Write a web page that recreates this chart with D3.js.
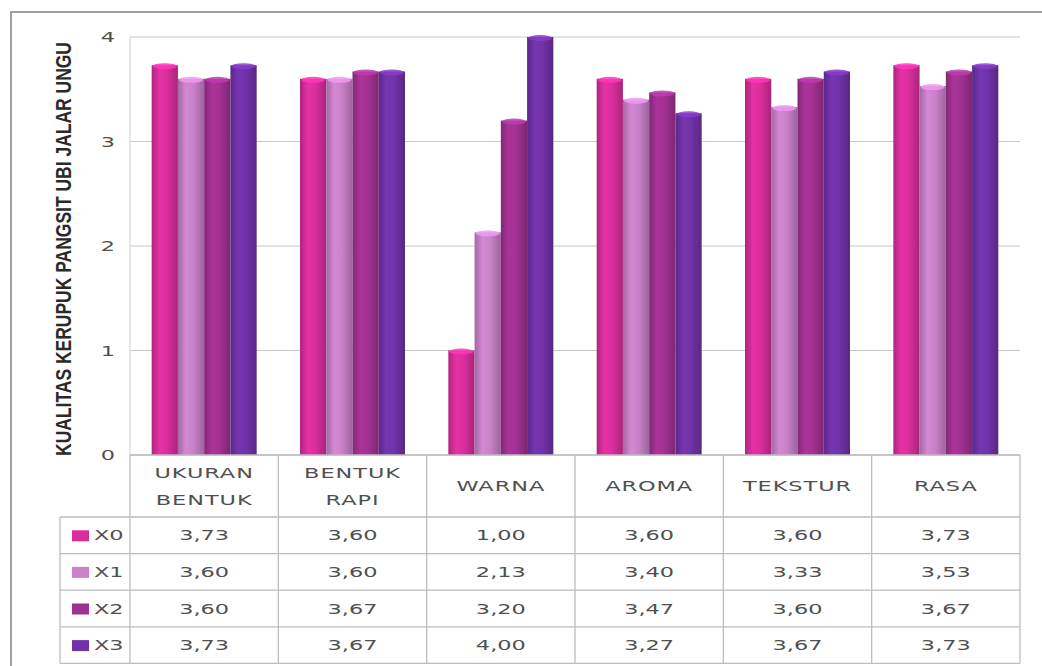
<!DOCTYPE html>
<html>
<head>
<meta charset="utf-8">
<script src="https://cdn.jsdelivr.net/npm/d3@7"></script>
<style>
  html, body { margin: 0; padding: 0; background: #fff; }
  svg { display: block; }
</style>
</head>
<body>
<svg id="chart" width="1042" height="666"></svg>
<script>
// Quality scores of purple sweet potato pangsit crackers per attribute
const categories = ["UKURAN\nBENTUK", "BENTUK\nRAPI", "WARNA", "AROMA", "TEKSTUR", "RASA"];
const seriesNames = ["X0", "X1", "X2", "X3"];
const valuesX0 = [3.73, 3.60, 1.00, 3.60, 3.60, 3.73];
const valuesX1 = [3.60, 3.60, 2.13, 3.40, 3.33, 3.53];
const valuesX2 = [3.60, 3.67, 3.20, 3.47, 3.60, 3.67];
const valuesX3 = [3.73, 3.67, 4.00, 3.27, 3.67, 3.73];
const seriesColors = ["#d92e9c", "#c981c9", "#a13192", "#7132a8"];
const yTicks = [0, 1, 2, 3, 4];
const yTitle = "KUALITAS KERUPUK PANGSIT UBI JALAR UNGU";

const seriesValues = [valuesX0, valuesX1, valuesX2, valuesX3];

const svg = d3.select("#chart");
const plot = { left: 130, right: 1020, top: 37, bottom: 455 };
const rowTop = 517, rowH = 36.6, legendLeft = 60;
const sx = 1.58; // horizontal stretch of all lettering
const textFont = "'DejaVu Sans', Verdana, sans-serif";
const textSize = 14.2;
const textColor = "#505050";
const gridColor = "#c8c8c8";
const tableColor = "#bdbdbd";

const x = d3.scaleBand().domain(categories).range([plot.left, plot.right]);
const bw = x.bandwidth();
const groupW = 105;
const xs = d3.scaleBand().domain(seriesNames)
  .range([bw / 2 - groupW / 2, bw / 2 + groupW / 2]).padding(0);
const y = d3.scaleLinear().domain([0, 4]).range([plot.bottom, plot.top]);

// outer frame
svg.append("line").attr("x1", 10).attr("x2", 1042).attr("y1", 12).attr("y2", 12)
  .attr("stroke", "#a0a0a0").attr("stroke-width", 2);
svg.append("line").attr("x1", 11).attr("x2", 11).attr("y1", 12).attr("y2", 666)
  .attr("stroke", "#a0a0a0").attr("stroke-width", 2);

// gradients giving each column a rounded, shaded look
const defs = svg.append("defs");
seriesColors.forEach((c, i) => {
  const base = d3.color(c);
  const g = defs.append("linearGradient").attr("id", "grad" + i)
    .attr("x1", "0%").attr("x2", "100%").attr("y1", "0%").attr("y2", "0%");
  g.append("stop").attr("offset", "0%").attr("stop-color", base.darker(0.6));
  g.append("stop").attr("offset", "30%").attr("stop-color", base.brighter(0.15));
  g.append("stop").attr("offset", "60%").attr("stop-color", base);
  g.append("stop").attr("offset", "100%").attr("stop-color", base.darker(0.7));
});

// gridlines
const grid = svg.append("g");
grid.selectAll("line").data(yTicks).join("line")
  .attr("x1", plot.left).attr("x2", plot.right)
  .attr("y1", d => y(d)).attr("y2", d => y(d))
  .attr("stroke", gridColor).attr("stroke-width", 1.2);
svg.append("line").attr("x1", plot.left).attr("x2", plot.left)
  .attr("y1", plot.top).attr("y2", plot.bottom)
  .attr("stroke", "#d8d8d8").attr("stroke-width", 1.2);

// y axis tick labels
svg.append("g").selectAll("text").data(yTicks).join("text")
  .attr("transform", d => `translate(108,${y(d) + 5}) scale(${sx},1)`)
  .attr("text-anchor", "middle")
  .attr("font-family", textFont).attr("font-size", textSize)
  .attr("fill", textColor).text(d => d);

// y axis title
svg.append("text")
  .attr("transform", `translate(71,${(plot.top + plot.bottom) / 2 + 3}) scale(${sx},1) rotate(-90)`)
  .attr("text-anchor", "middle")
  .attr("font-family", "'Liberation Sans Narrow', 'Liberation Sans', Arial, sans-serif")
  .attr("font-weight", "bold").attr("font-size", 14.5)
  .attr("fill", "#2a2a2a")
  .attr("textLength", 414).attr("lengthAdjust", "spacingAndGlyphs")
  .text(yTitle);

// bars
const groups = svg.append("g").selectAll("g").data(categories).join("g")
  .attr("transform", d => `translate(${x(d)},0)`);
groups.each(function (cat, ci) {
  const g = d3.select(this);
  seriesNames.forEach((s, si) => {
    const v = seriesValues[si][ci];
    const bx = xs(s), w = xs.bandwidth();
    g.append("rect")
      .attr("x", bx).attr("y", y(v))
      .attr("width", w).attr("height", y(0) - y(v))
      .attr("fill", `url(#grad${si})`);
    g.append("ellipse")
      .attr("cx", bx + w / 2).attr("cy", y(v) + 1)
      .attr("rx", w / 2 - 1).attr("ry", 3)
      .attr("fill", d3.color(seriesColors[si]).brighter(0.5))
      .attr("opacity", 0.85);
  });
});

// data table
const table = svg.append("g");
const lineAttrs = sel => sel.attr("stroke", tableColor).attr("stroke-width", 1.3);
const colEdges = categories.map(c => x(c)).concat([plot.right]);
const rowEdges = seriesNames.map((s, i) => rowTop + i * rowH).concat([rowTop + seriesNames.length * rowH]);
const tableBottom = rowEdges[rowEdges.length - 1];

// vertical lines
table.selectAll("line.v").data(colEdges).join("line").attr("class", "v")
  .attr("x1", d => d).attr("x2", d => d)
  .attr("y1", plot.bottom).attr("y2", tableBottom).call(lineAttrs);
table.append("line").attr("x1", legendLeft).attr("x2", legendLeft)
  .attr("y1", rowTop).attr("y2", tableBottom).call(lineAttrs);
// horizontal lines
table.append("line").attr("x1", plot.left).attr("x2", plot.right)
  .attr("y1", plot.bottom).attr("y2", plot.bottom).call(lineAttrs);
table.selectAll("line.h").data(rowEdges).join("line").attr("class", "h")
  .attr("x1", legendLeft).attr("x2", plot.right)
  .attr("y1", d => d).attr("y2", d => d).call(lineAttrs);

// category headers
categories.forEach(c => {
  const lines = c.split("\n");
  const cx = x(c) + bw / 2;
  const cy = (plot.bottom + rowTop) / 2;
  lines.forEach((ln, li) => {
    const ly = cy + 5 + (li - (lines.length - 1) / 2) * 27;
    table.append("text")
      .attr("transform", `translate(${cx},${ly}) scale(${sx},1)`)
      .attr("text-anchor", "middle")
      .attr("font-family", textFont).attr("font-size", textSize)
      .attr("letter-spacing", 0.6)
      .attr("fill", textColor).text(ln);
  });
});

// legend keys and values
const fmt = v => d3.format(".2f")(v).replace(".", ",");
seriesNames.forEach((s, si) => {
  const cy = rowEdges[si] + rowH / 2;
  table.append("rect").attr("x", 72).attr("y", cy - 5).attr("width", 17).attr("height", 11)
    .attr("fill", seriesColors[si]);
  table.append("text")
    .attr("transform", `translate(94,${cy + 5}) scale(${sx},1)`)
    .attr("font-family", textFont).attr("font-size", textSize)
    .attr("fill", textColor).text(s);
  categories.forEach((c, ci) => {
    table.append("text")
      .attr("transform", `translate(${x(c) + bw / 2},${cy + 5}) scale(${sx},1)`)
      .attr("text-anchor", "middle")
      .attr("font-family", textFont).attr("font-size", textSize)
      .attr("fill", textColor).text(fmt(seriesValues[si][ci]));
  });
});
</script>
</body>
</html>
